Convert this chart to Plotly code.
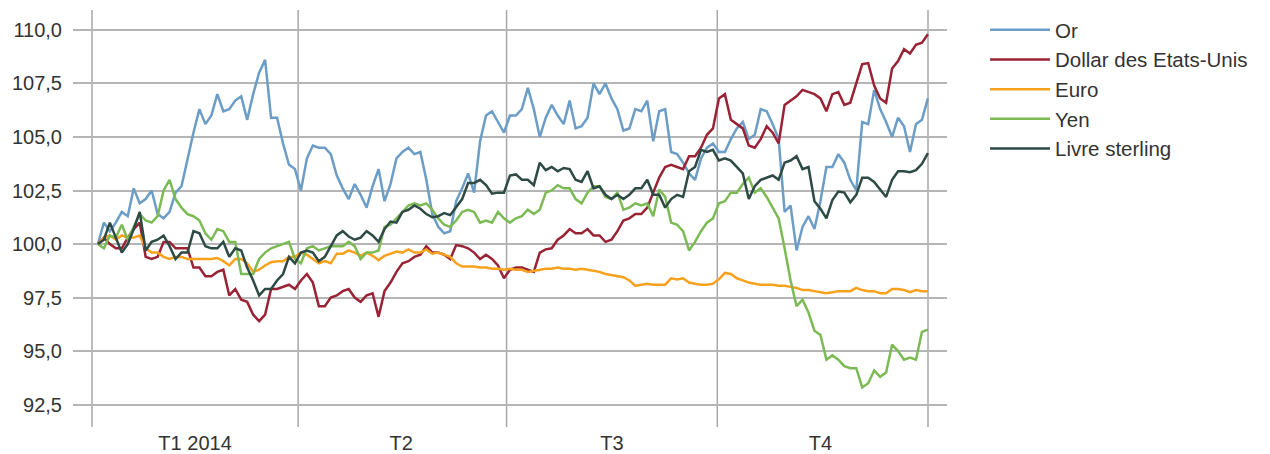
import pandas as pd
import plotly.graph_objects as go

# Sampling dates (about every 2.6 days through 2014)
dates = pd.date_range("2014-01-03 14:00", "2014-12-31 23:00", periods=140)

or_vals = [
    100.0, 101.0, 100.6, 101.0, 101.5, 101.3, 102.6, 101.9, 102.1, 102.5, 101.4, 101.2, 101.5, 102.4, 102.7, 104.0, 105.2, 106.3, 105.6, 106.0,
    107.0, 106.2, 106.3, 106.7, 106.9, 105.8, 107.0, 108.0, 108.6, 105.9, 105.9, 104.7, 103.7, 103.5, 102.5, 104.0, 104.6, 104.5, 104.5, 104.2,
    103.2, 102.6, 102.1, 102.8, 102.3, 101.7, 102.7, 103.5, 102.0, 102.8, 104.0, 104.3, 104.5, 104.2, 104.3, 103.0, 101.4, 100.8, 100.5, 100.6,
    102.0, 102.6, 103.3, 102.4, 104.8, 106.0, 106.2, 105.7, 105.2, 106.0, 106.0, 106.3, 107.3, 106.3, 105.0, 105.9, 106.5, 106.0, 105.6, 106.7,
    105.4, 105.5, 105.9, 107.5, 107.0, 107.5, 106.8, 106.3, 105.3, 105.4, 106.3, 106.2, 106.7, 104.8, 106.2, 106.3, 104.3, 104.2, 103.8, 103.3,
    103.0, 104.0, 104.5, 104.7, 104.3, 104.3, 104.9, 105.4, 105.7, 104.9, 105.1, 106.3, 106.2, 105.6, 104.9, 101.5, 101.8, 99.7, 100.8, 101.3,
    100.7, 102.0, 103.6, 103.6, 104.2, 103.8, 103.0, 102.5, 105.7, 105.6, 107.2, 106.3, 105.7, 105.0, 105.9, 105.5, 104.3, 105.6, 105.8, 106.8,
]

dollar_vals = [
    100.0, 100.3, 100.0, 99.8, 99.8, 100.3, 100.7, 101.0, 99.4, 99.3, 99.4, 100.1, 100.1, 99.8, 99.8, 99.8, 98.9, 98.9, 98.5, 98.5,
    98.7, 98.8, 97.6, 97.9, 97.4, 97.3, 96.7, 96.4, 96.7, 97.9, 97.9, 98.0, 98.1, 97.9, 98.3, 98.6, 98.2, 97.1, 97.1, 97.5,
    97.6, 97.8, 97.9, 97.5, 97.3, 97.6, 97.7, 96.6, 97.8, 98.2, 98.7, 99.1, 99.2, 99.4, 99.5, 99.9, 99.6, 99.6, 99.5, 99.3,
    99.95, 99.9, 99.8, 99.6, 99.3, 99.5, 99.3, 99.0, 98.4, 98.8, 98.9, 98.9, 98.8, 98.7, 99.6, 99.75, 99.8, 100.2, 100.4, 100.7,
    100.5, 100.5, 100.7, 100.4, 100.4, 100.1, 100.2, 100.6, 101.1, 101.2, 101.4, 101.4, 101.7, 102.4, 103.1, 103.6, 103.7, 103.6, 103.5, 104.1,
    104.1, 104.5, 105.1, 105.4, 106.8, 107.0, 105.8, 105.6, 105.4, 104.6, 104.5, 104.9, 105.5, 105.2, 104.7, 106.5, 106.7, 106.9, 107.2, 107.1,
    107.0, 106.8, 106.2, 107.0, 107.1, 106.5, 106.6, 107.5, 108.4, 108.45, 107.4, 106.8, 106.6, 108.2, 108.55, 109.1, 108.9, 109.3, 109.4, 109.8,
]

euro_vals = [
    100.0, 100.3, 100.4, 100.2, 100.4, 100.3, 100.3, 100.4, 99.8, 99.6, 99.6, 99.4, 99.3, 99.4, 99.4, 99.3, 99.3, 99.3, 99.3, 99.3,
    99.35, 99.2, 99.0, 99.3, 99.3, 99.1, 98.7, 98.8, 99.0, 99.15, 99.2, 99.2, 99.4, 99.4, 99.6, 99.5, 99.3, 99.1, 99.2, 99.1,
    99.55, 99.55, 99.7, 99.6, 99.45, 99.6, 99.45, 99.25, 99.45, 99.55, 99.65, 99.6, 99.75, 99.6, 99.6, 99.75, 99.55, 99.6, 99.5, 99.4,
    99.1, 98.95, 98.95, 98.95, 98.9, 98.9, 98.85, 98.85, 98.8, 98.85, 98.8, 98.8, 98.7, 98.75, 98.8, 98.85, 98.85, 98.9, 98.85, 98.85,
    98.8, 98.85, 98.8, 98.75, 98.7, 98.6, 98.55, 98.5, 98.45, 98.3, 98.05, 98.1, 98.15, 98.1, 98.1, 98.1, 98.4, 98.35, 98.4, 98.2,
    98.15, 98.1, 98.1, 98.15, 98.35, 98.65, 98.6, 98.4, 98.3, 98.2, 98.15, 98.1, 98.1, 98.1, 98.05, 98.05, 98.0, 97.95, 97.85, 97.85,
    97.8, 97.75, 97.7, 97.75, 97.8, 97.8, 97.8, 97.95, 97.85, 97.8, 97.8, 97.7, 97.7, 97.9, 97.9, 97.85, 97.75, 97.85, 97.8, 97.8,
]

yen_vals = [
    100.0, 99.8, 100.4, 100.3, 100.9, 100.2, 100.8, 101.4, 101.1, 101.0, 101.3, 102.5, 103.0, 102.1, 101.7, 101.4, 101.3, 101.1, 100.5, 100.2,
    100.7, 100.6, 100.1, 100.1, 98.6, 98.6, 98.6, 99.3, 99.6, 99.8, 99.9, 100.0, 100.1, 99.3, 99.1, 99.8, 99.9, 99.7, 99.8, 99.9,
    99.9, 99.9, 100.1, 99.9, 99.3, 99.6, 99.6, 99.7, 100.8, 100.9, 101.2, 101.5, 101.8, 101.9, 101.8, 101.9, 101.6, 101.2, 100.9, 100.8,
    101.1, 101.5, 101.6, 101.5, 101.0, 101.1, 101.0, 101.5, 101.2, 101.0, 101.2, 101.3, 101.6, 101.4, 101.6, 102.4, 102.5, 102.75, 102.6, 102.6,
    102.1, 101.9, 102.4, 102.7, 102.7, 102.2, 102.1, 102.4, 101.6, 101.7, 101.9, 101.8, 101.9, 101.3, 102.55, 102.2, 101.0, 100.9, 100.6, 99.7,
    100.1, 100.6, 101.0, 101.2, 101.9, 102.0, 102.4, 102.4, 102.8, 103.1, 102.4, 102.6, 102.2, 101.7, 101.2, 99.8, 98.3, 97.1, 97.4, 96.8,
    95.95, 95.75, 94.6, 94.8, 94.6, 94.3, 94.2, 94.2, 93.3, 93.5, 94.1, 93.8, 94.0, 95.3, 95.0, 94.6, 94.7, 94.6, 95.9, 96.0,
]

livre_vals = [
    100.0, 100.2, 101.0, 100.3, 99.6, 100.0, 100.7, 101.5, 99.7, 100.1, 100.2, 100.4, 99.9, 99.3, 99.6, 99.6, 100.6, 100.5, 99.9, 99.8,
    99.8, 100.1, 99.4, 99.8, 99.7, 98.9, 98.3, 97.6, 97.9, 97.9, 98.3, 98.6, 99.4, 99.1, 99.6, 99.7, 99.6, 99.2, 99.4, 99.9,
    100.4, 100.6, 100.35, 100.2, 100.3, 100.6, 100.4, 100.1, 100.7, 101.05, 101.0, 101.5, 101.6, 101.8, 101.65, 101.4, 101.25, 101.3, 101.45, 101.35,
    101.75, 102.1, 102.85, 102.85, 103.0, 102.75, 102.35, 102.4, 102.4, 103.2, 103.25, 103.0, 103.0, 102.75, 103.8, 103.45, 103.6, 103.4, 103.55, 103.5,
    103.0, 102.9, 103.4, 102.6, 102.7, 102.3, 102.1, 102.3, 102.1, 102.3, 102.6, 102.6, 103.0, 102.3, 102.3, 101.7, 102.1, 102.3, 102.2, 103.4,
    103.6, 104.4, 104.3, 104.4, 103.9, 104.0, 103.9, 103.6, 103.3, 102.1, 102.7, 103.0, 103.1, 103.2, 103.0, 103.8, 103.9, 104.1, 103.5, 103.6,
    102.0, 101.65, 101.2, 102.05, 102.45, 102.4, 101.95, 102.3, 103.1, 103.1, 102.9, 102.55, 102.2, 103.0, 103.4, 103.4, 103.35, 103.45, 103.75, 104.25,
]

series_names = ["Or", "Dollar des Etats-Unis", "Euro", "Yen", "Livre sterling"]
series_vals = [or_vals, dollar_vals, euro_vals, yen_vals, livre_vals]
series_colors = ["#6b9dc7", "#992334", "#f8a11d", "#7cba55", "#2d4a45"]

quarter_bounds = ["2014-01-01", "2014-04-01", "2014-07-01", "2014-10-01", "2015-01-01"]
quarter_mids = ["2014-02-15", "2014-05-16", "2014-08-16", "2014-11-15"]
quarter_labels = ["T1 2014", "T2", "T3", "T4"]
y_ticks = [92.5, 95.0, 97.5, 100.0, 102.5, 105.0, 107.5, 110.0]

fig = go.Figure()
for name, vals, col in zip(series_names, series_vals, series_colors):
    fig.add_trace(go.Scatter(x=dates, y=vals, name=name, mode="lines",
                             line=dict(color=col, width=2.5)))

for b in quarter_bounds:
    fig.add_shape(type="line", xref="x", yref="paper", x0=b, x1=b, y0=0, y1=1,
                  line=dict(color="#a8a8a8", width=1.5), layer="below")

font_family = "Liberation Sans, Arial, sans-serif"
tick_font = dict(family=font_family, size=20, color="#333333")
legend_font = dict(family=font_family, size=20.5, color="#333333")

fig.update_layout(
    width=1270, height=454,
    margin=dict(l=65, r=331, t=2, b=35),
    paper_bgcolor="white", plot_bgcolor="white",
    separators=", ",
    font=tick_font,
    showlegend=True,
    legend=dict(x=1.0435, y=1.0, xanchor="left", yanchor="top",
                font=legend_font, itemwidth=60, tracegroupgap=0,
                bgcolor="rgba(0,0,0,0)"),
    xaxis=dict(
        range=["2013-12-23 17:00", "2015-01-09 07:00"],
        showgrid=False, zeroline=False, showline=False, automargin=False,
        tickmode="array", tickvals=quarter_mids, ticktext=quarter_labels,
        ticks="", ticklabelstandoff=2, tickfont=tick_font,
    ),
    yaxis=dict(
        range=[91.455, 110.93], automargin=False,
        tickmode="array", tickvals=y_ticks, tickformat=".1f",
        showgrid=True, gridcolor="#b5b5b5", gridwidth=1.5,
        zeroline=False, showline=False, ticks="", ticklabelstandoff=10,
        tickfont=tick_font,
    ),
)

fig.write_html("out.html")
